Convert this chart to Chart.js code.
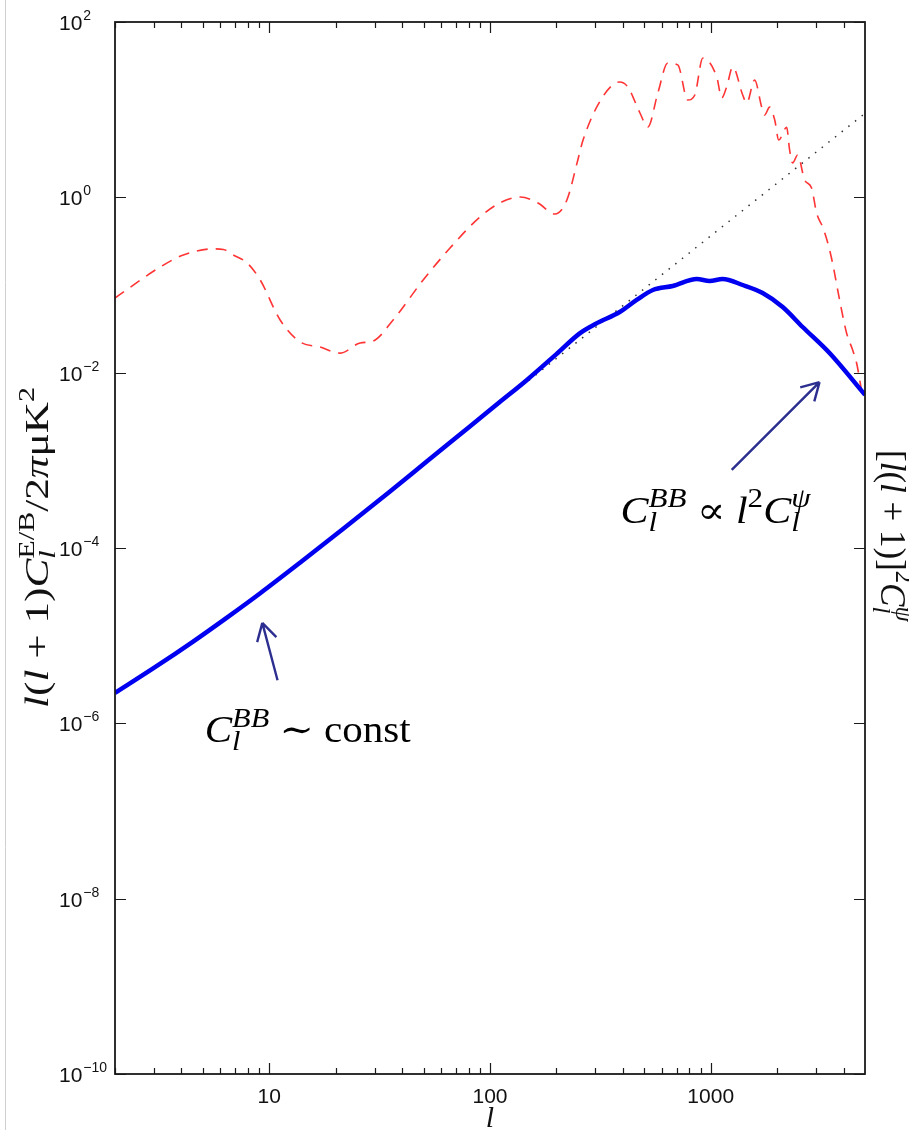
<!DOCTYPE html>
<html>
<head>
<meta charset="utf-8">
<script src="https://cdn.jsdelivr.net/npm/chart.js@4/dist/chart.umd.min.js"></script>
<style>
  html, body { margin: 0; padding: 0; background: #fff; }
  #wrap { width: 909px; height: 1130px; }
</style>
</head>
<body>
<div id="wrap"><canvas id="cmb" width="909" height="1130"></canvas></div>
<script>
// B-mode spectrum (thick blue)
const bbL   = [2, 3, 4.5, 6.5, 9.1, 14, 22, 35, 52, 80, 110, 147, 200, 255, 300, 387, 462, 547, 673, 865, 989, 1132, 1396, 1719, 2118, 2608, 3454, 5000];
const bbVal = [2.22e-6, 4.28e-6, 8.51e-6, 1.64e-5, 3.05e-5, 7.01e-5, 1.71e-4, 4.35e-4, 9.82e-4, 2.37e-3, 4.56e-3, 8.26e-3, 1.63e-2, 2.81e-2, 3.59e-2, 4.92e-2, 6.75e-2, 8.77e-2, 9.75e-2, 0.117, 0.111, 0.117, 0.100, 0.081, 0.0561, 0.0332, 0.01675, 0.00558];

// E-mode spectrum (red dashed)
const eeL   = [2, 3.15, 4.08, 5.58, 6.2, 6.87, 7.95, 9.1, 11.2, 13.8, 17, 20.9, 25.8, 29.6, 36.4, 49.8, 65.9, 90.1, 113, 137, 165, 197, 223, 250, 264, 324, 387, 421, 478, 519, 576, 639, 709, 787, 847, 921, 1065, 1122, 1181, 1259, 1396, 1455, 1581, 1702, 1755, 1849, 1950, 2033, 2208, 2277, 2350, 2477, 2663, 2864, 3018, 3214, 3381, 3565, 3836, 4125, 4392, 4580, 4861, 5000];
const eeVal = [0.0711, 0.156, 0.220, 0.258, 0.254, 0.220, 0.178, 0.114, 0.0399, 0.0224, 0.0196, 0.0167, 0.0218, 0.0230, 0.0399, 0.114, 0.264, 0.597, 0.885, 1.01, 0.861, 0.646, 0.933, 2.67, 4.51, 14.0, 20.7, 18.2, 9.16, 6.34, 15.5, 34.0, 32.4, 12.9, 14.7, 38.8, 23.6, 13.6, 18.2, 30.7, 14.7, 11.9, 21.8, 10.7, 8.69, 10.7, 7.62, 4.51, 6.31, 3.47, 2.47, 3.04, 1.58, 1.28, 0.662, 0.459, 0.310, 0.178, 0.0675, 0.0284, 0.0182, 0.0129, 0.00589, 0.00513];

// lensing potential [l(l+1)]^2 C_l^psi (dotted, right-hand quantity)
const psiL   = [150, 5000];
const psiVal = [0.00817, 9.08];

const xTickValues = [10, 100, 1000];
const xTickLabels = ["10", "100", "1000"];
const yTickValues = [1e2, 1, 1e-2, 1e-4, 1e-6, 1e-8, 1e-10];
const yTickExps   = ["2", "0", "\u22122", "\u22124", "\u22126", "\u22128", "\u221210"];

// minor log ticks on x
const xMinorTicks = [];
[1, 10, 100, 1000].forEach(d => {
  for (let k = 2; k <= 9; k++) if (k * d >= 2 && k * d < 5000) xMinorTicks.push(k * d);
});

const toPts = (xs, ys) => xs.map((v, i) => ({ x: v, y: ys[i] }));

const SERIF = '"Liberation Serif", "DejaVu Serif", serif';
const SANS = '"Liberation Sans", Arial, sans-serif';

// draws a little math-like run of text; returns its width
function mathRun(ctx, segs, size, draw, scr) {
  scr = scr || 0.7;
  let x = 0, lastStart = 0;
  for (const s of segs) {
    const fs = s.pos ? size * scr : size;
    ctx.font = (s.it ? 'italic ' : '') + fs + 'px ' + SERIF;
    const w = ctx.measureText(s.t).width;
    const sx = s.stack ? lastStart : x;
    const dy = s.pos === 'sup' ? -size * 0.42 : s.pos === 'sub' ? size * 0.22 : 0;
    if (draw) ctx.fillText(s.t, sx, dy);
    if (s.stack) x = Math.max(x, sx + w);
    else { lastStart = x; x = x + w; }
  }
  return x;
}

const leftTitle = [
  { t: 'l', it: 1 }, { t: '(' }, { t: 'l', it: 1 }, { t: ' + 1)' },
  { t: 'C', it: 1 }, { t: 'l', it: 1, pos: 'sub' }, { t: 'E/B', pos: 'sup', stack: 1 },
  { t: '/2' }, { t: '\u03c0', it: 1 }, { t: '\u03bcK' }, { t: '2', pos: 'sup' }
];
const rightTitle = [
  { t: '[' }, { t: 'l', it: 1 }, { t: '(' }, { t: 'l', it: 1 }, { t: ' + 1)]' }, { t: '2', pos: 'sup' },
  { t: 'C', it: 1 }, { t: 'l', it: 1, pos: 'sub' }, { t: '\u03c8', it: 1, pos: 'sup', stack: 1 }
];

const notes = [
  { at: [5.1, 6.1e-7], width: 206, tip: [9.3, 1.4e-5], tail: [10.9, 3.1e-6],
    segs: [{ t: 'C', it: 1 }, { t: 'l', it: 1, pos: 'sub' }, { t: 'BB', it: 1, pos: 'sup', stack: 1 }, { t: ' \u223c const' }] },
  { at: [390, 1.93e-4], width: 190, tip: [3112, 7.8e-3], tail: [1245, 7.8e-4],
    segs: [{ t: 'C', it: 1 }, { t: 'l', it: 1, pos: 'sub' }, { t: 'BB', it: 1, pos: 'sup', stack: 1 }, { t: ' \u221d ' },
           { t: 'l', it: 1 }, { t: '2', pos: 'sup' }, { t: 'C', it: 1 }, { t: 'l', it: 1, pos: 'sub' }, { t: '\u03c8', it: 1, pos: 'sup', stack: 1 }] }
];

const decor = {
  id: 'decor',
  afterDatasetsDraw(chart) {
    const { ctx, chartArea: a, scales: { x, y } } = chart;
    ctx.save();
    // box
    ctx.strokeStyle = '#1a1a1a';
    ctx.lineWidth = 1.8;
    ctx.strokeRect(a.left, a.top, a.right - a.left, a.bottom - a.top);
    ctx.lineWidth = 1.2;
    ctx.beginPath();
    xMinorTicks.forEach(v => {
      const px = Math.round(x.getPixelForValue(v)) + 0.5;
      ctx.moveTo(px, a.bottom); ctx.lineTo(px, a.bottom - 6);
      ctx.moveTo(px, a.top); ctx.lineTo(px, a.top + 6);
    });
    xTickValues.forEach(v => {
      const px = Math.round(x.getPixelForValue(v)) + 0.5;
      ctx.moveTo(px, a.bottom); ctx.lineTo(px, a.bottom - 11);
      ctx.moveTo(px, a.top); ctx.lineTo(px, a.top + 11);
    });
    yTickValues.forEach(v => {
      const py = Math.round(y.getPixelForValue(v)) + 0.5;
      ctx.moveTo(a.left, py); ctx.lineTo(a.left + 11, py);
      ctx.moveTo(a.right, py); ctx.lineTo(a.right - 11, py);
    });
    ctx.stroke();
    ctx.restore();
  },
  afterDraw(chart) {
    const { ctx, chartArea: a, scales: { x, y } } = chart;
    ctx.save();
    // faint page edge on the left
    ctx.strokeStyle = '#cfcfcf';
    ctx.lineWidth = 1;
    ctx.beginPath(); ctx.moveTo(5.5, 0); ctx.lineTo(5.5, 1130); ctx.stroke();

    ctx.fillStyle = '#111';
    ctx.textBaseline = 'alphabetic';
    // y tick labels 10^n
    yTickValues.forEach((v, i) => {
      const py = y.getPixelForValue(v) + 8;
      ctx.font = '21px ' + SANS;
      ctx.textAlign = 'left';
      ctx.fillText('10', 59, py);
      const w = ctx.measureText('10').width;
      ctx.font = '14px ' + SANS;
      ctx.fillText(yTickExps[i], 59 + w + 1, py - 10);
    });
    // x tick labels
    ctx.font = '21px ' + SANS;
    ctx.textAlign = 'center';
    xTickValues.forEach((v, i) => ctx.fillText(xTickLabels[i], x.getPixelForValue(v), a.bottom + 29));
    // x title
    ctx.font = 'italic 30px ' + SERIF;
    ctx.fillText('l', (a.left + a.right) / 2, a.bottom + 53);
    ctx.textAlign = 'left';

    // y title (left), rotated, reading upward
    ctx.save();
    ctx.translate(48, 708);
    ctx.rotate(-Math.PI / 2);
    const lw = mathRun(ctx, leftTitle, 33, false);
    ctx.scale(321 / lw, 1);
    mathRun(ctx, leftTitle, 33, true);
    ctx.restore();

    // right title, rotated, reading downward, cut by page edge
    ctx.save();
    ctx.translate(881, 450);
    ctx.rotate(Math.PI / 2);
    mathRun(ctx, rightTitle, 35, true);
    ctx.restore();

    // annotations with arrows
    notes.forEach(n => {
      const tx = x.getPixelForValue(n.at[0]), ty = y.getPixelForValue(n.at[1]);
      ctx.save();
      ctx.translate(tx, ty);
      ctx.fillStyle = '#000';
      const nw = mathRun(ctx, n.segs, 37, false, 0.74);
      ctx.scale(n.width / nw, 1);
      mathRun(ctx, n.segs, 37, true, 0.74);
      ctx.restore();
      const hx = x.getPixelForValue(n.tip[0]), hy = y.getPixelForValue(n.tip[1]);
      const bx = x.getPixelForValue(n.tail[0]), by = y.getPixelForValue(n.tail[1]);
      const ang = Math.atan2(by - hy, bx - hx);
      ctx.strokeStyle = '#2c2f8f';
      ctx.lineWidth = 2.4;
      ctx.beginPath();
      ctx.moveTo(bx, by); ctx.lineTo(hx, hy);
      [-0.52, 0.52].forEach(d => {
        ctx.moveTo(hx, hy);
        ctx.lineTo(hx + 20 * Math.cos(ang + d), hy + 20 * Math.sin(ang + d));
      });
      ctx.stroke();
    });
    ctx.restore();
  }
};

new Chart(document.getElementById('cmb'), {
  type: 'line',
  data: {
    datasets: [
      {
        label: 'BB',
        data: toPts(bbL, bbVal),
        borderColor: '#0000f0',
        borderWidth: 4.5,
        pointRadius: 0,
        cubicInterpolationMode: 'monotone'
      },
      {
        label: 'EE',
        data: toPts(eeL, eeVal),
        borderColor: '#ff3535',
        borderWidth: 1.6,
        borderDash: [11, 8],
        pointRadius: 0,
        cubicInterpolationMode: 'monotone'
      },
      {
        label: 'psi',
        data: toPts(psiL, psiVal),
        borderColor: '#333',
        borderWidth: 1.5,
        borderDash: [1.5, 7],
        pointRadius: 0
      }
    ]
  },
  options: {
    responsive: false,
    animation: false,
    layout: { padding: { left: 0, top: 22, right: 44, bottom: 0 } },
    plugins: { legend: { display: false }, tooltip: { enabled: false } },
    scales: {
      x: {
        type: 'logarithmic', min: 2, max: 5000,
        grid: { display: false }, border: { display: false },
        ticks: { display: false },
        afterFit(s) { s.height = 56; }
      },
      y: {
        type: 'logarithmic', min: 1e-10, max: 1e2,
        grid: { display: false }, border: { display: false },
        ticks: { display: false },
        afterFit(s) { s.width = 115; }
      }
    }
  },
  plugins: [decor]
});
</script>
</body>
</html>
